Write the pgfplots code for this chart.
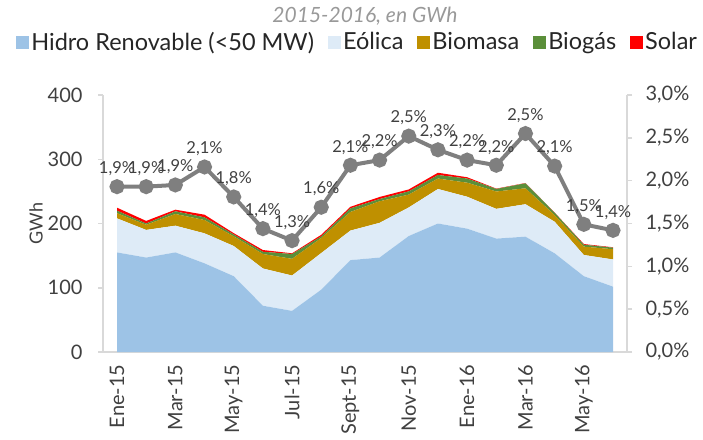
\documentclass[border=0pt]{standalone}
\usepackage{pgfplots}
\pgfplotsset{compat=1.18}
\usepackage{pgfplotstable}
\usepackage{fontspec}
\setmainfont{Lato}
\definecolor{hidroC}{HTML}{9DC3E6}
\definecolor{eolC}{HTML}{DEEBF7}
\definecolor{bioC}{HTML}{BF9000}
\definecolor{biogC}{HTML}{5B8F3A}
\definecolor{solC}{HTML}{FF0000}
\definecolor{lineC}{HTML}{7F7F7F}
\definecolor{axC}{HTML}{D9D9D9}
\definecolor{txtC}{HTML}{404040}

\pgfplotstableread{
x hidro eolica biomasa biogas solar
0 155 53 8 4 4.6
1 147 43 8 2 4
2 155 41.6 18.2 4.2 2.5
3 138 46.7 20.7 4.2 4.1
4 118 47 15 3 2
5 72 58 22.5 3.5 2.7
6 64 55 26 7.5 1.1
7 97 57 23.4 2.5 2.5
8 143 46 29 5.6 2.4
9 147 54 33.6 3.5 3.2
10 180.5 44.5 20 5 3
11 200 53.7 16.3 5.5 3.5
12 192 49.7 21.8 6.5 2
13 176.5 46.3 27 4 0.5
14 179.5 50.5 24.8 7.8 0.4
15 153.6 49.2 10.2 3.8 0.2
16 118 33 13 3 1
17 101.7 42.3 16 2.4 0.6
}\areadata

\pgfplotstableread{
x pct lab
0 1.93 1,9
1 1.93 1,9
2 1.95 1,9
3 2.16 2,1
4 1.81 1,8
5 1.44 1,4
6 1.30 1,3
7 1.69 1,6
8 2.18 2,1
9 2.24 2,2
10 2.52 2,5
11 2.36 2,3
12 2.24 2,2
13 2.18 2,2
14 2.55 2,5
15 2.17 2,1
16 1.49 1,5
17 1.42 1,4
}\linedata

\begin{document}
\begin{tikzpicture}
\useasboundingbox (0,0) rectangle (703pt,439pt);
\node[font=\fontsize{21}{25}\selectfont\itshape, text=black!40] at (365pt,423pt) {2015-2016, en GWh};
\begin{axis}[
  at={(103pt,87pt)}, anchor=south west,
  scale only axis, width=524pt, height=257pt,
  xmin=-0.48, xmax=17.48,
  ymin=0, ymax=400,
  ytick={0,100,200,300,400},
  xtick={0,2,4,6,8,10,12,14,16},
  xticklabels={Ene-15,Mar-15,May-15,Jul-15,Sept-15,Nov-15,Ene-16,Mar-16,May-16},
  x tick label style={rotate=90, anchor=east, font=\fontsize{20}{24}\selectfont, text=txtC},
  y tick label style={font=\fontsize{20}{24}\selectfont, text=txtC},
  /pgf/number format/assume math mode=true,
  axis x line*=bottom, axis y line*=left,
  axis line style={draw=axC, line width=2pt},
  x axis line style={-}, y axis line style={-},
  xtick style={draw=none},
  ytick style={draw=axC, line width=1.5pt},
  tick align=outside, major tick length=5pt,
  xticklabel shift=4pt, yticklabel shift=12pt,
  ylabel={GWh}, ylabel style={font=\fontsize{18}{22}\selectfont, text=txtC},
  ylabel shift=-2pt,
  stack plots=y,
  legend columns=-1,
  legend style={at={(0.486,1.206)}, anchor=center, draw=none, fill=none,
     font=\fontsize{23.5}{27}\selectfont, text=black!85,
     /tikz/every even column/.append style={column sep=12pt},
     inner sep=0pt},
  legend image code/.code={\fill[#1] (0pt,-6.5pt) rectangle (13pt,6.5pt);},
]
\addplot[fill=hidroC, draw=none] table[x=x,y=hidro]{\areadata} \closedcycle;
\addlegendentry{Hidro Renovable (<50 MW)}
\addplot[fill=eolC, draw=none] table[x=x,y=eolica]{\areadata} \closedcycle;
\addlegendentry{Eólica}
\addplot[fill=bioC, draw=none] table[x=x,y=biomasa]{\areadata} \closedcycle;
\addlegendentry{Biomasa}
\addplot[fill=biogC, draw=none] table[x=x,y=biogas]{\areadata} \closedcycle;
\addlegendentry{Biogás}
\addplot[fill=solC, draw=none] table[x=x,y=solar]{\areadata} \closedcycle;
\addlegendentry{Solar}
\end{axis}
\begin{axis}[
  at={(103pt,87pt)}, anchor=south west,
  scale only axis, width=524pt, height=257pt,
  xmin=-0.48, xmax=17.48,
  ymin=0, ymax=3,
  ytick={0,0.5,1,1.5,2,2.5,3},
  yticklabel={\pgfmathprintnumber[fixed,fixed zerofill,precision=1,use comma]{\tick}\%},
  y tick label style={font=\fontsize{20}{24}\selectfont, text=txtC},
  /pgf/number format/assume math mode=true,
  axis x line=none, axis y line*=right,
  axis line style={draw=axC, line width=2pt},
  y axis line style={-},
  ytick style={draw=axC, line width=1.5pt},
  tick align=outside, major tick length=5pt,
  yticklabel shift=10pt,
  clip=false,
]
\addplot[color=lineC, line width=4pt, mark=*, mark size=5.5pt,
  mark options={fill=lineC, draw=none},
  point meta=explicit symbolic,
  nodes near coords={\pgfplotspointmeta\%},
  every node near coord/.append style={font=\fontsize{16.5}{20}\selectfont, text=txtC, anchor=south, yshift=8pt, inner sep=1pt}
] table[x=x, y=pct, meta=lab]{\linedata};
\end{axis}
\end{tikzpicture}
\end{document}
